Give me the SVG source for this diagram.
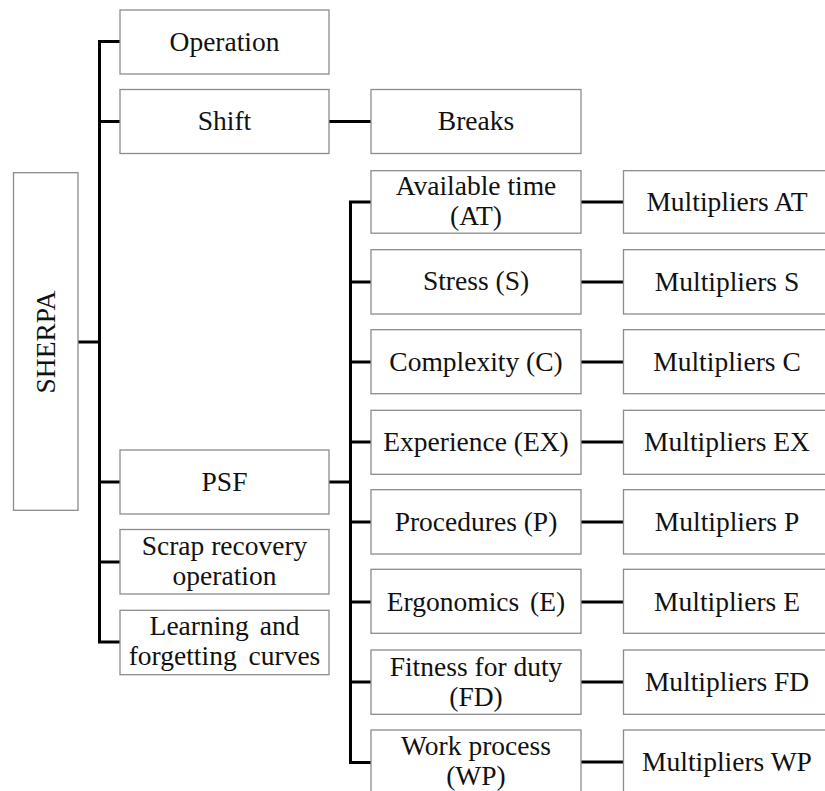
<svg xmlns="http://www.w3.org/2000/svg" width="825" height="791" viewBox="0 0 825 791">
  <style>
    .box { fill: #ffffff; stroke: #8c8c8c; stroke-width: 1.3; }
    .lbl { font-size: 27.5px; fill: #111111; text-anchor: middle; }
    .link { fill: none; stroke: #000000; stroke-width: 3; stroke-linejoin: miter; stroke-linecap: butt; }
  </style>
  <rect width="825" height="791" fill="#ffffff"/>

  <!-- connectors -->
  <g id="connectors">
    <!-- main trunk from SHERPA -->
    <path class="link" d="M120 41.5 H99.5 V642 H120"/>
    <path class="link" d="M78 342 H99.5"/>
    <path class="link" d="M99.5 121.5 H120"/>
    <path class="link" d="M99.5 482 H120"/>
    <path class="link" d="M99.5 562 H120"/>
    <!-- Shift to Breaks -->
    <path class="link" d="M329 121.5 H371"/>
    <!-- PSF trunk -->
    <path class="link" d="M329 482 H350.5"/>
    <path class="link" d="M371 202 H350.5 V762.5 H371"/>
    <path class="link" d="M350.5 282 H371"/>
    <path class="link" d="M350.5 362 H371"/>
    <path class="link" d="M350.5 442 H371"/>
    <path class="link" d="M350.5 522 H371"/>
    <path class="link" d="M350.5 602 H371"/>
    <path class="link" d="M350.5 682 H371"/>
    <!-- factors to multipliers -->
    <path class="link" d="M581 202 H623.5"/>
    <path class="link" d="M581 282 H623.5"/>
    <path class="link" d="M581 362 H623.5"/>
    <path class="link" d="M581 442 H623.5"/>
    <path class="link" d="M581 522 H623.5"/>
    <path class="link" d="M581 602 H623.5"/>
    <path class="link" d="M581 682 H623.5"/>
    <path class="link" d="M581 762 H623.5"/>
  </g>

  <g font-family="'Liberation Serif', 'DejaVu Serif', serif">
  <!-- root -->
  <g id="sherpa">
    <rect class="box" x="13.5" y="172.7" width="64.5" height="337.6"/>
    <text class="lbl" transform="translate(54.5 342) rotate(-90)" x="0" y="0">SHERPA</text>
  </g>

  <!-- first level -->
  <g id="operation">
    <rect class="box" x="120" y="10" width="209" height="64"/>
    <text class="lbl" x="224.5" y="50.5">Operation</text>
  </g>
  <g id="shift">
    <rect class="box" x="120" y="89.5" width="209" height="64"/>
    <text class="lbl" x="224.5" y="129.5">Shift</text>
  </g>
  <g id="breaks">
    <rect class="box" x="371" y="89.5" width="210" height="64"/>
    <text class="lbl" x="476" y="130">Breaks</text>
  </g>
  <g id="psf">
    <rect class="box" x="120" y="450" width="209" height="64"/>
    <text class="lbl" x="224.5" y="490.5">PSF</text>
  </g>
  <g id="scrap">
    <rect class="box" x="120" y="529.5" width="209" height="64.5"/>
    <text class="lbl" x="224.5" y="555">Scrap recovery</text>
    <text class="lbl" x="224.5" y="584.5">operation</text>
  </g>
  <g id="learning">
    <rect class="box" x="120" y="610.3" width="209" height="64.4"/>
    <text class="lbl" x="224.5" y="635" word-spacing="4">Learning and</text>
    <text class="lbl" x="224.5" y="664.5" word-spacing="5">forgetting curves</text>
  </g>

  <!-- performance shaping factors -->
  <g id="at">
    <rect class="box" x="371" y="170.7" width="210" height="62.5"/>
    <text class="lbl" x="476" y="195">Available time</text>
    <text class="lbl" x="476" y="225">(AT)</text>
  </g>
  <g id="s">
    <rect class="box" x="371" y="249.7" width="210" height="64.3"/>
    <text class="lbl" x="476" y="290">Stress (S)</text>
  </g>
  <g id="c">
    <rect class="box" x="371" y="329.7" width="210" height="64"/>
    <text class="lbl" x="476" y="370.5">Complexity (C)</text>
  </g>
  <g id="ex">
    <rect class="box" x="371" y="410.3" width="210" height="64"/>
    <text class="lbl" x="476" y="450.5">Experience (EX)</text>
  </g>
  <g id="p">
    <rect class="box" x="371" y="489.7" width="210" height="64.3"/>
    <text class="lbl" x="476" y="530.5">Procedures (P)</text>
  </g>
  <g id="e">
    <rect class="box" x="371" y="569.3" width="210" height="64"/>
    <text class="lbl" x="476" y="610.5" word-spacing="4">Ergonomics (E)</text>
  </g>
  <g id="fd">
    <rect class="box" x="371" y="650" width="210" height="64.3"/>
    <text class="lbl" x="476" y="676">Fitness for duty</text>
    <text class="lbl" x="476" y="706">(FD)</text>
  </g>
  <g id="wp">
    <rect class="box" x="371" y="730" width="210" height="64"/>
    <text class="lbl" x="476" y="755">Work process</text>
    <text class="lbl" x="476" y="785">(WP)</text>
  </g>

  <!-- multipliers -->
  <g id="m-at">
    <rect class="box" x="623.5" y="170.7" width="207" height="62.5"/>
    <text class="lbl" x="727" y="211">Multipliers AT</text>
  </g>
  <g id="m-s">
    <rect class="box" x="623.5" y="249.7" width="207" height="64.3"/>
    <text class="lbl" x="727" y="290.5">Multipliers S</text>
  </g>
  <g id="m-c">
    <rect class="box" x="623.5" y="329.7" width="207" height="64"/>
    <text class="lbl" x="727" y="370.5">Multipliers C</text>
  </g>
  <g id="m-ex">
    <rect class="box" x="623.5" y="410.3" width="207" height="64"/>
    <text class="lbl" x="727" y="450.5">Multipliers EX</text>
  </g>
  <g id="m-p">
    <rect class="box" x="623.5" y="489.7" width="207" height="64.3"/>
    <text class="lbl" x="727" y="530.5">Multipliers P</text>
  </g>
  <g id="m-e">
    <rect class="box" x="623.5" y="569.3" width="207" height="64"/>
    <text class="lbl" x="727" y="610.5">Multipliers E</text>
  </g>
  <g id="m-fd">
    <rect class="box" x="623.5" y="650" width="207" height="64.3"/>
    <text class="lbl" x="727" y="690.5">Multipliers FD</text>
  </g>
  <g id="m-wp">
    <rect class="box" x="623.5" y="730" width="207" height="64"/>
    <text class="lbl" x="727" y="770.5">Multipliers WP</text>
  </g>
  </g>
</svg>
